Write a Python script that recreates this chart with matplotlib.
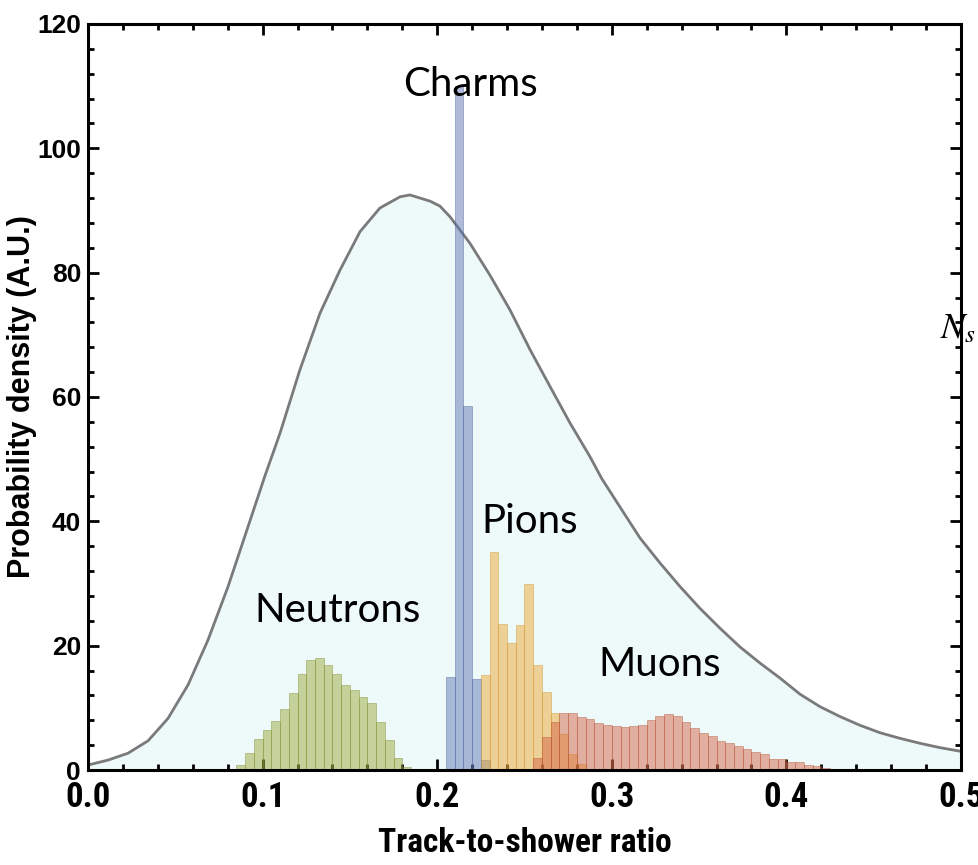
import numpy as np
import matplotlib.pyplot as plt
from matplotlib import font_manager
from matplotlib.ticker import MultipleLocator

# Огибающая
curve_x = [0.0, 0.0115, 0.0229, 0.0344, 0.0458, 0.0573, 0.0687, 0.0802, 0.0916,
           0.1012, 0.110, 0.1214, 0.1329, 0.1443, 0.1558, 0.1672, 0.1787, 0.1844,
           0.1959, 0.2016, 0.2073, 0.2188, 0.2302, 0.2417, 0.2532, 0.2646, 0.2761,
           0.2875, 0.2942, 0.3047, 0.3162, 0.3276, 0.3391, 0.3505, 0.362, 0.3734,
           0.3849, 0.3963, 0.4078, 0.4192, 0.4307, 0.4421, 0.4536, 0.465, 0.4765,
           0.488, 0.5]
curve_y = [0.8, 1.6, 2.7, 4.7, 8.3, 13.7, 20.9, 29.5, 39.1,
           47.2, 54.2, 64.4, 73.5, 80.4, 86.6, 90.4, 92.2, 92.5,
           91.5, 90.7, 89.0, 84.7, 79.6, 74.0, 67.6, 61.7, 55.8,
           50.4, 46.9, 42.3, 37.3, 33.3, 29.5, 26.0, 22.8, 19.8,
           17.2, 14.8, 12.2, 10.2, 8.6, 7.2, 6.0, 5.1, 4.3,
           3.6, 3.0]

bin_w = 0.005

neutron_start = 0.085
neutrons = [0.85, 2.8, 5.0, 6.5, 7.9, 9.8, 12.4, 15.4, 17.7, 18.0,
            16.9, 15.5, 13.7, 12.9, 11.8, 10.7, 7.7, 4.8, 2.0, 0.5]

charm_start = 0.205
charms = [15.0, 110.0, 58.5, 14.6, 1.6]

pion_start = 0.225
pions = [15.3, 35.0, 23.5, 20.5, 23.3, 30.0, 16.9, 12.6, 9.1, 5.8, 2.6, 1.0]

muon_start = 0.255
muons = [2.0, 5.3, 7.7, 9.1, 9.1, 8.5, 8.2, 7.5, 7.2, 7.1, 7.0, 7.1, 7.3,
         8.0, 8.7, 9.0, 8.7, 7.8, 6.8, 6.0, 5.4, 4.7, 4.3, 3.9, 3.4, 2.9,
         2.5, 1.8, 1.7, 1.3, 1.3, 0.8, 0.6, 0.4, 0.2, 0.15, 0.1]

labels = ["Neutrons", "Charms", "Pions", "Muons"]
label_xy = [(0.1432, 25.7), (0.2188, 110.2), (0.2532, 39.9), (0.3276, 16.9)]

# узкий шрифт для оси x, если есть
narrow_family, narrow_stretch = "Liberation Sans", "normal"
for f in font_manager.fontManager.ttflist:
    if f.name in ("Liberation Sans Narrow", "Arial Narrow", "Roboto Condensed"):
        narrow_family, narrow_stretch = f.name, "normal"
        break
else:
    for f in font_manager.fontManager.ttflist:
        if f.name == "DejaVu Sans" and f.stretch == "condensed":
            narrow_family, narrow_stretch = "DejaVu Sans", "condensed"
            break

plt.rcParams["mathtext.fontset"] = "stix"

fig = plt.figure(figsize=(9.79, 8.65), dpi=100)
ax = fig.add_axes([0.0899, 0.1098, 0.8917, 0.8625])

ax.fill_between(curve_x, curve_y, 0, color="#eefafa", zorder=1)
ax.plot(curve_x, curve_y, color="#7a7a7a", linewidth=2.0, zorder=2,
        solid_joinstyle="round")


def hist(start, vals, face, edge):
    lefts = start + bin_w * np.arange(len(vals))
    ax.bar(lefts, vals, width=bin_w, align="edge", facecolor=face,
           edgecolor=edge, linewidth=0.6, alpha=0.5, zorder=3)


hist(neutron_start, neutrons, "#9caa3c", "#7f8c2c")
hist(charm_start, charms, "#6078b2", "#4c6298")
hist(pion_start, pions, "#eca832", "#d09428")
hist(muon_start, muons, "#d66646", "#b85236")

for name, (lx, ly) in zip(labels, label_xy):
    ax.text(lx, ly, name, fontsize=29, family="Lato", ha="center",
            va="center", zorder=5)

ax.set_xlim(0, 0.5)
ax.set_ylim(0, 120)
ax.xaxis.set_minor_locator(MultipleLocator(0.02))
ax.yaxis.set_major_locator(MultipleLocator(20))
ax.yaxis.set_minor_locator(MultipleLocator(4))
ax.set_xticks(np.arange(0, 0.51, 0.1))
ax.set_xticklabels([f"{v:.1f}" for v in np.arange(0, 0.51, 0.1)])
ax.tick_params(which="both", direction="in", top=True, right=True,
               width=2, color="black")
ax.tick_params(which="major", length=8)
ax.tick_params(which="minor", length=4)
ax.tick_params(axis="x", pad=8)
ax.tick_params(axis="y", pad=5)
for lab in ax.get_xticklabels():
    lab.set_fontfamily(narrow_family)
    lab.set_fontstretch(narrow_stretch)
    lab.set_fontweight("bold")
    lab.set_fontsize(25)
for lab in ax.get_yticklabels():
    lab.set_fontfamily("Liberation Sans")
    lab.set_fontweight("bold")
    lab.set_fontsize(19)
for sp in ax.spines.values():
    sp.set_linewidth(2.2)
    sp.set_zorder(6)

ax.set_xlabel("Track-to-shower ratio", family=narrow_family,
              fontstretch=narrow_stretch, fontweight="bold", fontsize=24)
ax.xaxis.set_label_coords(0.5, -0.077)
ax.set_ylabel("Probability density (A.U.)", family="Liberation Sans",
              fontweight="bold", fontsize=22)
ax.yaxis.set_label_coords(-0.058, 0.5)

fig.text(0.960, 0.621, r"$N_s$", fontsize=26, ha="left", va="center")

plt.savefig("out.png", dpi=100)
